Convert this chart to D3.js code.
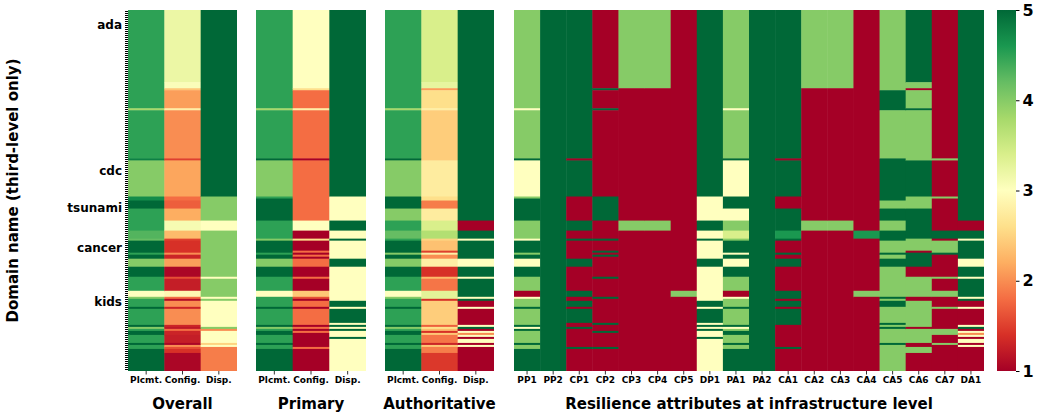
<!DOCTYPE html>
<html>
<head>
<meta charset="utf-8">
<script src="https://cdn.jsdelivr.net/npm/d3@7"></script>
<style>
  body { margin: 0; background: #fff; }
  svg { font-family: "DejaVu Sans", sans-serif; font-weight: bold; }
</style>
</head>
<body>
<svg width="1041" height="415"></svg>
<script>
// rows are third-level domains, sorted by group; each column is written as [startRow, score] breakpoints
var nRows = 180;

var rowTicks = [7, 80, 98, 118, 145];
var rowLabels = ["ada", "cdc", "tsunami", "cancer", "kids"];

var overallLabels = ["Plcmt.", "Config.", "Disp."];
var overallPlcmt = [[0,4.5],[49,3.8],[50,4.5],[74,4.8],[75,4],[93,4.7],[95,5],[99,4.5],[110,4.3],[114,4.2],[115,5],[121,4.5],[122,5],[124,4],[128,5],[133,4.5],[140,3],[143,4],[144,4.5],[148,5],[149,4.5],[157,5],[158,4],[159,4.5],[160,5],[162,4.5],[166,5],[167,4.5],[169,5]];
var overallConfig = [[0,3.2],[36,3.05],[39,2.4],[40,2.1],[49,2.8],[50,2.0],[74,1.5],[75,2.15],[93,1.8],[95,1.7],[99,2.2],[105,3.1],[110,2.3],[114,1.5],[115,1.4],[121,2.0],[122,1.3],[124,2.1],[128,1.05],[133,1.6],[134,1.25],[140,2.9],[143,1.8],[144,1.1],[145,2.0],[148,1.3],[149,2.0],[157,1.3],[158,1.2],[159,1.8],[160,1.3],[162,1.25],[166,1.05],[167,2.0],[168,1.6],[169,1.4],[171,1.05]];
var overallDisp = [[0,5],[93,4],[105,3],[110,4],[133,3],[134,4],[143,3],[144,4],[145,3],[158,4],[159,2],[160,3],[166,2.5],[167,3],[168,1.9]];

var primaryPlcmt = [[0,4.5],[49,3.8],[50,4.5],[74,5],[75,4],[93,4.5],[94,5],[105,4.5],[114,4],[115,5],[121,4.5],[122,5],[124,4],[128,5],[133,4.5],[140,3],[143,4.5],[148,5],[149,4.5],[157,5],[158,4],[159,4.5],[160,5],[162,4.5],[166,5],[167,4.5],[169,5]];
var primaryConfig = [[0,3],[39,2.6],[40,1.8],[49,2.8],[50,1.8],[74,1],[75,1.8],[105,3],[110,1],[114,2.6],[115,1],[120,1.8],[121,1],[122,1.8],[123,1],[124,1.8],[128,1],[133,1.8],[134,1],[140,2.4],[143,1.6],[144,1],[145,1.8],[148,1],[149,1.8],[157,1],[158,1.8],[159,1],[160,1.8],[161,1],[168,1.8],[169,1]];
var primaryDisp = [[0,5],[93,3],[105,5],[110,3],[114,5],[115,3],[124,5],[128,3],[145,5],[148,3],[149,5],[156,3],[157,5],[158,3],[159,5],[160,3],[163,5],[164,3]];

var authPlcmt = [[0,4.5],[49,3.8],[50,4.5],[74,5],[75,4],[93,5],[99,4],[105,4.5],[110,4.2],[114,4.5],[115,5],[121,4],[122,5],[124,4],[128,5],[133,4.5],[140,3],[143,4],[144,4.5],[148,5],[149,4.5],[157,5],[158,4],[159,4.5],[160,5],[162,4.5],[166,5],[167,4.5],[169,5]];
var authConfig = [[0,3.4],[36,3.25],[39,2.1],[40,2.6],[49,2.8],[50,2.45],[75,2.75],[93,2.6],[95,1.9],[99,2.75],[105,3.4],[110,3.7],[114,2.5],[115,2.35],[120,1.5],[121,2.8],[122,2.0],[124,2.8],[128,1.4],[133,2.3],[134,1.85],[140,3.3],[144,1.4],[145,2.45],[157,1.7],[158,2.6],[159,2.3],[160,1.4],[161,2.4],[162,1.85],[166,1.3],[167,2.4],[168,1.9],[171,1.45]];
var authDisp = [[0,5],[105,1],[110,5],[114,3],[115,5],[124,3],[128,5],[133,3],[134,5],[143,3],[144,5],[145,1],[148,3],[149,1],[157,3],[158,5],[159,1],[160,3],[161,2],[162,3],[163,1],[164,3],[166,1],[167,3],[168,1]];

var infraLabels = ["PP1","PP2","CP1","CP2","CP3","CP4","CP5","DP1","PA1","PA2","CA1","CA2","CA3","CA4","CA5","CA6","CA7","DA1"];
var PP1 = [[0,4],[49,3],[50,4],[74,5],[75,3],[93,4],[94,5],[105,4],[114,3],[115,5],[121,4],[122,5],[124,3],[128,5],[133,4],[140,1],[143,3],[144,4],[148,5],[149,4],[157,5],[158,3],[159,5],[160,4],[166,5],[167,4],[169,5]];
var PP2 = [[0,5]];
var CP1 = [[0,5],[74,1],[75,5],[93,1],[105,5],[110,1],[114,5],[115,1],[124,5],[128,1],[140,5],[143,1],[145,5],[148,1],[149,5],[156,1],[158,5],[159,1],[168,5],[169,1]];
var CP2 = [[0,1],[39,5],[40,1],[49,5],[50,1],[93,5],[105,1],[114,5],[115,1],[120,5],[121,1],[122,5],[123,1],[133,5],[134,1],[143,5],[144,1],[156,5],[157,1],[160,5],[161,1],[168,5],[169,1]];
var CP3 = [[0,4],[39,1],[105,4],[110,1]];
var CP4 = [[0,4],[39,1],[105,4],[110,1]];
var CP5 = [[0,1],[140,4],[143,1]];
var DP1 = [[0,5],[93,3],[105,5],[110,3],[114,5],[115,3],[124,5],[128,3],[145,5],[148,3],[149,5],[156,3],[157,5],[158,3],[159,5],[160,3],[163,5],[164,3]];
var PA1 = [[0,4],[49,3],[50,4],[74,5],[75,3],[93,5],[99,3],[105,4],[110,3.4],[114,4],[115,5],[121,3],[122,5],[124,3],[128,5],[133,4],[140,1],[143,3],[144,4],[148,5],[149,4],[157,5],[158,3],[159,4],[160,5],[162,4],[166,5],[167,4],[169,5]];
var PA2 = [[0,5]];
var CA1 = [[0,5],[74,1],[75,5],[93,1],[99,5],[110,4.6],[114,5],[115,1],[121,5],[122,1],[124,5],[128,1],[140,5],[144,1],[145,5],[148,1],[149,5],[157,1],[168,5],[169,1]];
var CA2 = [[0,4],[39,1],[105,4],[110,1]];
var CA3 = [[0,4],[39,1],[105,4],[110,1]];
var CA4 = [[0,1],[110,4.6],[114,1],[140,4],[143,1]];
var CA5 = [[0,4],[40,5],[50,4],[74,5],[95,4],[99,5],[105,4],[110,5],[115,4],[121,5],[122,4],[124,5],[128,4],[143,5],[144,4],[145,5],[148,4],[156,5],[157,4],[158,5],[159,4],[166,5],[167,4]];
var CA6 = [[0,5],[36,4],[39,1],[40,4],[49,5],[50,4],[75,5],[93,4],[99,5],[114,4],[120,1],[121,5],[128,1],[133,4],[143,1],[145,4],[158,1],[159,4],[166,1],[168,4],[171,1]];
var CA7 = [[0,1],[74,4],[75,1],[93,4],[94,1],[110,5],[114,1],[115,4],[121,5],[122,1],[133,4],[134,1],[140,4],[143,1],[148,4],[149,1],[159,4],[162,1],[166,4],[167,1]];
var DA1 = [[0,5],[105,1],[110,5],[114,3],[115,5],[124,3],[128,5],[133,3],[134,5],[143,3],[144,5],[145,1],[148,3],[149,1],[157,3],[158,5],[159,1],[160,3],[161,2],[162,3],[163,1],[164,3],[166,1],[167,3],[168,1]];

var panels = [
  {title: "Overall", x0: 128, x1: 237, labels: overallLabels, cols: [overallPlcmt, overallConfig, overallDisp]},
  {title: "Primary", x0: 256, x1: 366, labels: overallLabels, cols: [primaryPlcmt, primaryConfig, primaryDisp]},
  {title: "Authoritative", x0: 385, x1: 494, labels: overallLabels, cols: [authPlcmt, authConfig, authDisp]},
  {title: "Resilience attributes at infrastructure level", x0: 514, x1: 984, labels: infraLabels,
   cols: [PP1,PP2,CP1,CP2,CP3,CP4,CP5,DP1,PA1,PA2,CA1,CA2,CA3,CA4,CA5,CA6,CA7,DA1]}
];

// matplotlib RdYlGn
var rdylgn = ["#a50026","#d73027","#f46d43","#fdae61","#fee08b","#ffffbf","#d9ef8b","#a6d96a","#66bd63","#1a9850","#006837"];
var color = d3.scaleLinear().domain(d3.range(11).map(function(i) { return 1 + i * 0.4; })).range(rdylgn).clamp(true);

// one block per run of equal scores
function runs(breaks) {
  return breaks.map(function(b, i) {
    return {start: b[0], end: i + 1 < breaks.length ? breaks[i + 1][0] : nRows, v: b[1]};
  });
}

var svg = d3.select("svg");
var plotTop = 10, plotBottom = 371;
var y = d3.scaleBand().domain(d3.range(nRows + 1)).range([plotTop, plotBottom + (plotBottom - plotTop) / nRows]);

panels.forEach(function(p) {
  var x = d3.scaleBand().domain(p.labels).range([p.x0, p.x1]);
  var g = svg.append("g");
  p.cols.forEach(function(col, ci) {
    g.selectAll(null)
      .data(runs(col))
      .enter().append("rect")
        .attr("x", x(p.labels[ci]))
        .attr("y", function(d) { return y(d.start); })
        .attr("width", x.bandwidth() + (ci < p.labels.length - 1 ? 0.5 : 0))
        .attr("height", function(d) { return y(d.end) - y(d.start) + (d.end < nRows ? 0.5 : 0); })
        .attr("fill", function(d) { return color(d.v); });
  });

  var ax = svg.append("g")
      .attr("transform", "translate(0," + plotBottom + ")")
      .call(d3.axisBottom(x).tickSize(3.5).tickPadding(2));
  ax.select(".domain").remove();
  ax.selectAll("line").attr("stroke-width", 0.8);
  ax.selectAll("text").attr("font-size", 9).attr("font-weight", "bold")
    .attr("font-family", "DejaVu Sans").attr("fill", "#000");

  svg.append("text")
    .attr("x", (p.x0 + p.x1) / 2).attr("y", 409)
    .attr("text-anchor", "middle").attr("font-size", 15)
    .text(p.title);
});

// y ticks for every row, labels on a few
var yRows = d3.scaleBand().domain(d3.range(nRows)).range([plotTop, plotBottom]);
var yax = svg.append("g")
    .attr("transform", "translate(128,0)")
    .call(d3.axisLeft(yRows).tickSize(3.5).tickFormat(""));
yax.select(".domain").remove();
yax.selectAll("line").attr("stroke-width", 1).attr("shape-rendering", "crispEdges");

rowTicks.forEach(function(r, i) {
  svg.append("text")
    .attr("x", 122).attr("y", yRows(r) + yRows.bandwidth() / 2)
    .attr("text-anchor", "end").attr("dominant-baseline", "central")
    .attr("font-size", 12)
    .text(rowLabels[i]);
});

svg.append("text")
  .attr("transform", "translate(13," + (plotTop + plotBottom) / 2 + ") rotate(-90)")
  .attr("text-anchor", "middle").attr("dominant-baseline", "central")
  .attr("font-size", 15)
  .text("Domain name (third-level only)");

// colour bar
var defs = svg.append("defs");
var grad = defs.append("linearGradient").attr("id", "cbar")
  .attr("x1", 0).attr("y1", 1).attr("x2", 0).attr("y2", 0);
rdylgn.forEach(function(c, i) {
  grad.append("stop").attr("offset", i / 10).attr("stop-color", c);
});
svg.append("rect").attr("x", 997).attr("y", plotTop).attr("width", 19).attr("height", plotBottom - plotTop)
  .attr("fill", "url(#cbar)");
var cy = d3.scaleLinear().domain([1, 5]).range([plotBottom, plotTop]);
var cax = svg.append("g").attr("transform", "translate(1016,0)")
  .call(d3.axisRight(cy).ticks(5).tickFormat(d3.format("d")).tickSize(3.5).tickPadding(3));
cax.select(".domain").remove();
cax.selectAll("text").attr("font-size", 16).attr("font-weight", "bold")
  .attr("font-family", "DejaVu Sans").attr("fill", "#000");
</script>
</body>
</html>
